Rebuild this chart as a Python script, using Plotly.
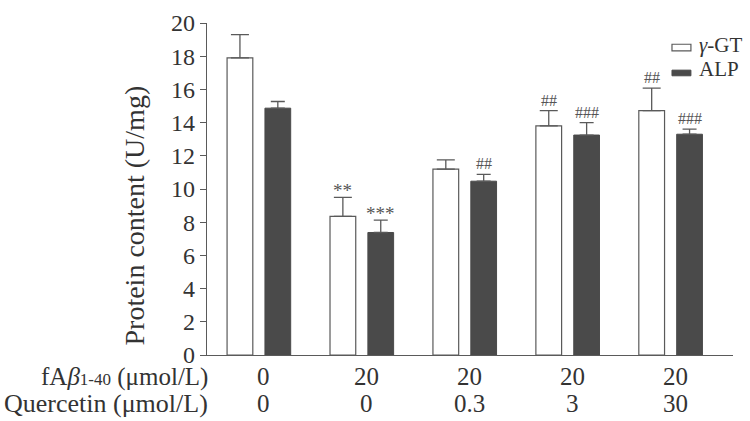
import plotly.graph_objects as go

groups = [0, 1, 2, 3, 4]
fab_labels = ["0", "20", "20", "20", "20"]
quer_labels = ["0", "0", "0.3", "3", "30"]
series_names = ["<i>γ</i>-GT", "ALP"]
gt_vals = [17.9, 8.35, 11.2, 13.8, 14.72]
gt_err = [1.4, 1.15, 0.56, 0.92, 1.36]
alp_vals = [14.87, 7.38, 10.47, 13.25, 13.3]
alp_err = [0.4, 0.74, 0.41, 0.75, 0.31]
gt_marks = ["", "**", "", "##", "##"]
alp_marks = ["", "***", "##", "###", "###"]
y_ticks = [0, 2, 4, 6, 8, 10, 12, 14, 16, 18, 20]

FONT = "Liberation Serif, Times New Roman, serif"
TXT = "#333333"
LINE = "#5a5a5a"
DARK = "#4a4a4a"

fig = go.Figure()
fig.add_trace(go.Bar(
    x=groups, y=gt_vals, width=0.25, offset=-0.315, name=series_names[0],
    marker=dict(color="white", line=dict(color=LINE, width=1.2)),
    error_y=dict(type="data", array=gt_err, arrayminus=[0]*5, symmetric=False,
                 color=LINE, thickness=1.3, width=9),
    showlegend=False, hoverinfo="skip"))
fig.add_trace(go.Bar(
    x=groups, y=alp_vals, width=0.25, offset=0.053, name=series_names[1],
    marker=dict(color=DARK, line=dict(color=DARK, width=1)),
    error_y=dict(type="data", array=alp_err, arrayminus=[0]*5, symmetric=False,
                 color=LINE, thickness=1.3, width=7),
    showlegend=False, hoverinfo="skip"))

ann = []
# significance marks
for i, g in enumerate(groups):
    for vals, errs, marks, off in ((gt_vals, gt_err, gt_marks, -0.19),
                                   (alp_vals, alp_err, alp_marks, 0.178)):
        m = marks[i]
        if not m:
            continue
        star = m.startswith("*")
        ann.append(dict(x=g + off, y=vals[i] + errs[i], xref="x", yref="y",
                        text=m, showarrow=False, yanchor="bottom",
                        yshift=-6 if star else 0,
                        font=dict(family=FONT, size=19 if star else 16, color="#555555")))

# bottom category rows
for i, g in enumerate(groups):
    ann.append(dict(x=g, y=-0.066, xref="x", yref="paper", text=fab_labels[i],
                    showarrow=False, xshift=4, yanchor="middle",
                    font=dict(family=FONT, size=25, color=TXT)))
    ann.append(dict(x=g, y=-0.145, xref="x", yref="paper", text=quer_labels[i],
                    showarrow=False, xshift=4, yanchor="middle",
                    font=dict(family=FONT, size=25, color=TXT)))
ann.append(dict(x=0.006, y=-0.066, xref="paper", yref="paper",
                text="fA<i>β</i><span style='font-size:17px'>1-40</span> (μmol/L)",
                showarrow=False, xanchor="right", yanchor="middle",
                font=dict(family=FONT, size=25, color=TXT)))
ann.append(dict(x=0.006, y=-0.145, xref="paper", yref="paper",
                text="Quercetin (μmol/L)",
                showarrow=False, xanchor="right", yanchor="middle",
                font=dict(family=FONT, size=26, color=TXT)))

# y-axis title
ann.append(dict(x=-0.137, y=0.42, xref="paper", yref="paper",
                text="Protein content (U/mg)", textangle=-90, showarrow=False,
                xanchor="center", yanchor="middle",
                font=dict(family=FONT, size=28, color=TXT)))

# legend (manual)
shapes = [
    dict(type="rect", xref="paper", yref="paper", x0=0.884, x1=0.920, y0=0.916, y1=0.936,
         fillcolor="white", line=dict(color=LINE, width=1.2)),
    dict(type="rect", xref="paper", yref="paper", x0=0.884, x1=0.920, y0=0.841, y1=0.858,
         fillcolor=DARK, line=dict(color=DARK, width=1)),
]
ann.append(dict(x=0.932, y=0.935, xref="paper", yref="paper", text=series_names[0],
                showarrow=False, xanchor="left", yanchor="middle",
                font=dict(family=FONT, size=21, color=TXT)))
ann.append(dict(x=0.932, y=0.862, xref="paper", yref="paper", text=series_names[1],
                showarrow=False, xanchor="left", yanchor="middle",
                font=dict(family=FONT, size=21, color=TXT)))

fig.update_layout(
    width=750, height=421,
    margin=dict(l=207, r=17, t=10, b=66),
    paper_bgcolor="white", plot_bgcolor="white",
    barmode="overlay",
    annotations=ann, shapes=shapes,
    xaxis=dict(range=[-0.51, 4.6], showticklabels=False, showgrid=False,
               zeroline=False, showline=True, linecolor=LINE, linewidth=1.3,
               ticks=""),
    yaxis=dict(range=[0, 20], tickvals=y_ticks, showgrid=False, zeroline=False,
               showline=True, linecolor=LINE, linewidth=1.3, ticks="outside",
               ticklen=6, tickcolor=LINE, tickwidth=1.2, ticklabeloverflow="allow",
               tickfont=dict(family=FONT, size=24, color=TXT)),
)

fig.write_html("out.html", config={"displayModeBar": False},
               post_script="document.body.style.margin='0';")
